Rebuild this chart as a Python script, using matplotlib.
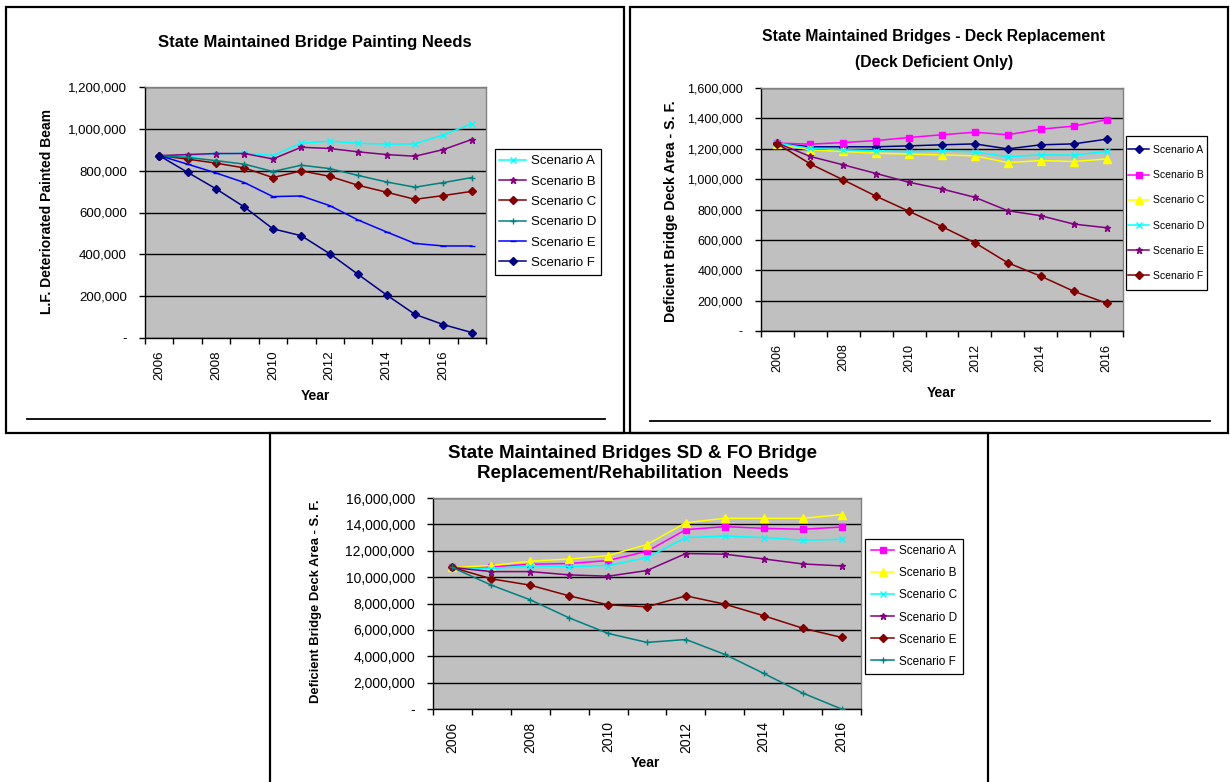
import matplotlib.pyplot as plt
from matplotlib.ticker import FuncFormatter, MultipleLocator
from matplotlib.lines import Line2D
from matplotlib.patches import Rectangle

plt.rcParams['font.family'] = ['Liberation Sans', 'DejaVu Sans']

# --- painting needs (top left) ---
paint_years = list(range(2006, 2018))
paint_a = [872, 868, 879, 884, 872, 931, 941, 931, 927, 928, 971, 1024]
paint_b = [872, 877, 882, 882, 856, 912, 906, 890, 877, 869, 901, 949]
paint_c = [872, 855, 836, 813, 767, 799, 773, 730, 697, 663, 681, 701]
paint_d = [872, 863, 848, 831, 796, 826, 810, 777, 746, 721, 743, 767]
paint_e = [872, 831, 789, 743, 676, 679, 633, 564, 507, 452, 440, 440]
paint_f = [872, 792, 713, 626, 522, 489, 403, 304, 206, 113, 64, 26]

# --- deck replacement (top right) ---
deck_years = list(range(2006, 2017))
deck_a = [1237, 1213, 1213, 1213, 1219, 1226, 1232, 1199, 1226, 1232, 1263]
deck_b = [1237, 1230, 1241, 1254, 1274, 1292, 1309, 1292, 1329, 1349, 1391]
deck_c = [1230, 1193, 1182, 1171, 1164, 1160, 1153, 1109, 1122, 1116, 1133]
deck_d = [1237, 1202, 1193, 1188, 1180, 1186, 1180, 1147, 1160, 1158, 1182]
deck_e = [1237, 1149, 1094, 1037, 979, 935, 880, 792, 759, 704, 680]
deck_f = [1232, 1100, 995, 887, 788, 687, 581, 449, 361, 262, 183]

# --- SD & FO replacement / rehabilitation (bottom) ---
sdfo_years = list(range(2006, 2017))
sdfo_a = [10.73, 10.78, 10.98, 11.03, 11.26, 11.96, 13.60, 13.83, 13.70, 13.63, 13.80]
sdfo_b = [10.73, 10.88, 11.20, 11.38, 11.63, 12.47, 14.13, 14.46, 14.46, 14.46, 14.74]
sdfo_c = [10.73, 10.65, 10.85, 10.80, 10.88, 11.48, 13.00, 13.12, 13.00, 12.80, 12.87]
sdfo_d = [10.73, 10.42, 10.42, 10.17, 10.07, 10.50, 11.79, 11.74, 11.38, 11.00, 10.85]
sdfo_e = [10.73, 9.87, 9.39, 8.58, 7.90, 7.75, 8.58, 7.95, 7.07, 6.13, 5.43]
sdfo_f = [10.73, 9.39, 8.28, 6.91, 5.73, 5.05, 5.27, 4.14, 2.70, 1.21, 0.0]

scenario_names = ['Scenario A', 'Scenario B', 'Scenario C',
                  'Scenario D', 'Scenario E', 'Scenario F']

CYAN, PURPLE, MAROON = '#00FFFF', '#800080', '#800000'
TEAL, BLUE, NAVY = '#008080', '#0000FF', '#000080'
MAGENTA, YELLOW = '#FF00FF', '#FFFF00'

W, H = 1230, 782
fig = plt.figure(figsize=(W / 100, H / 100), dpi=100)


def fx(px):
    return px / W


def fy(py):
    return 1 - py / H


def px_axes(left, top, right, bottom):
    return fig.add_axes([fx(left), fy(bottom), (right - left) / W, (bottom - top) / H])


def fmt_num(v, pos):
    if abs(v) < 1e-6:
        return '-'
    return f'{v:,.0f}'


def draw_panel(ax, years, series, styles, scale, ymax, ystep, tick_size):
    x = list(range(len(years)))
    for name, vals, (color, marker, ms) in zip(scenario_names, series, styles):
        ax.plot(x, [v * scale for v in vals], color=color, lw=1.1, marker=marker,
                markersize=ms, markerfacecolor=color, markeredgecolor=color,
                markeredgewidth=1.0, label=name, zorder=3)
    ax.set_facecolor('#C0C0C0')
    ax.set_xlim(-0.5, len(years) - 0.5)
    ax.set_ylim(0, ymax)
    ax.yaxis.set_major_locator(MultipleLocator(ystep))
    ax.yaxis.set_major_formatter(FuncFormatter(fmt_num))
    ax.grid(axis='y', color='black', lw=1.0)
    ax.set_axisbelow(True)
    ax.set_xticks(x[::2])
    ax.set_xticklabels([str(y) for y in years[::2]], rotation=90)
    ax.set_xticks([i - 0.5 for i in range(len(years) + 1)], minor=True)
    ax.tick_params(axis='x', which='major', length=0, pad=9, labelsize=tick_size,
                   labelcolor='black')
    ax.tick_params(axis='x', which='minor', length=4, width=1, direction='out')
    ax.tick_params(axis='y', which='major', length=4, width=1, direction='out',
                   pad=9, labelsize=tick_size)
    for side in ('top', 'right'):
        ax.spines[side].set_color('#808080')
        ax.spines[side].set_linewidth(1.0)
    for side in ('left', 'bottom'):
        ax.spines[side].set_color('black')
        ax.spines[side].set_linewidth(1.0)


def add_legend(ax, left, top, right, bottom, size, spacing):
    # Excel-style legend box: frame drawn separately so padding can differ
    fig.add_artist(Rectangle((fx(left), fy(bottom)), (right - left) / W,
                             (bottom - top) / H, transform=fig.transFigure,
                             facecolor='white', edgecolor='black', lw=0.9,
                             zorder=-1))
    ax.legend(loc='center', bbox_to_anchor=(fx((left + right) / 2), fy((top + bottom) / 2)),
              bbox_transform=fig.transFigure, borderaxespad=0, frameon=False,
              fontsize=size, labelspacing=spacing, handlelength=2.0,
              handletextpad=0.4, borderpad=0.2)


def box(left, top, right, bottom):
    fig.add_artist(Rectangle((fx(left), fy(bottom)), (right - left) / W,
                             (bottom - top) / H, transform=fig.transFigure,
                             fill=False, edgecolor='black', lw=1.6))


def hline(y, x0, x1):
    fig.add_artist(Line2D([fx(x0), fx(x1)], [fy(y), fy(y)],
                          transform=fig.transFigure, color='black', lw=1.3))


# panel frames
box(6, 7, 624, 433)
box(630, 7, 1228, 433)
box(270, 433, 988, 790)
hline(419, 27, 605)
hline(421, 650, 1210)

# top left panel
ax1 = px_axes(145, 87, 486, 338)
draw_panel(ax1, paint_years,
           [paint_a, paint_b, paint_c, paint_d, paint_e, paint_f],
           [(CYAN, 'x', 4), (PURPLE, '*', 5), (MAROON, 'D', 4),
            (TEAL, '+', 5), (BLUE, '_', 4), (NAVY, 'D', 4)],
           1000, 1200000, 200000, 9.5)
add_legend(ax1, 495, 149, 601, 275, 9.5, 0.61)
fig.text(fx(315), fy(43), 'State Maintained Bridge Painting Needs',
         ha='center', va='center', fontsize=12, fontweight='bold')
fig.text(fx(47), fy(212), 'L.F. Deteriorated Painted Beam', rotation=90,
         ha='center', va='center', fontsize=10, fontweight='bold')
fig.text(fx(315), fy(396), 'Year', ha='center', va='center',
         fontsize=10, fontweight='bold')

# top right panel
ax2 = px_axes(761, 88, 1123, 331)
draw_panel(ax2, deck_years,
           [deck_a, deck_b, deck_c, deck_d, deck_e, deck_f],
           [(NAVY, 'D', 4), (MAGENTA, 's', 5), (YELLOW, '^', 6),
            (CYAN, 'x', 4), (PURPLE, '*', 5), (MAROON, 'D', 4)],
           1000, 1600000, 200000, 9)
add_legend(ax2, 1126, 136, 1207, 290, 7.5, 1.46)
fig.text(fx(934), fy(37), 'State Maintained Bridges - Deck Replacement',
         ha='center', va='center', fontsize=11.3, fontweight='bold')
fig.text(fx(934), fy(62), '(Deck Deficient Only)',
         ha='center', va='center', fontsize=11.3, fontweight='bold')
fig.text(fx(671), fy(211), 'Deficient Bridge Deck Area - S. F.', rotation=90,
         ha='center', va='center', fontsize=10.2, fontweight='bold')
fig.text(fx(941), fy(393), 'Year', ha='center', va='center',
         fontsize=10, fontweight='bold')

# bottom panel
ax3 = px_axes(433, 498, 861, 709)
draw_panel(ax3, sdfo_years,
           [sdfo_a, sdfo_b, sdfo_c, sdfo_d, sdfo_e, sdfo_f],
           [(MAGENTA, 's', 5), (YELLOW, '^', 6), (CYAN, 'x', 4),
            (PURPLE, '*', 5), (MAROON, 'D', 4), (TEAL, '+', 5)],
           1e6, 16000000, 2000000, 10)
add_legend(ax3, 865, 539, 963, 674, 8.5, 0.85)
fig.text(fx(633), fy(453), 'State Maintained Bridges SD & FO Bridge',
         ha='center', va='center', fontsize=13.5, fontweight='bold')
fig.text(fx(633), fy(474), 'Replacement/Rehabilitation  Needs',
         ha='center', va='center', fontsize=13.5, fontweight='bold')
fig.text(fx(316), fy(601), 'Deficient Bridge Deck Area - S. F.', rotation=90,
         ha='center', va='center', fontsize=9.4, fontweight='bold')
fig.text(fx(645), fy(763), 'Year', ha='center', va='center',
         fontsize=10, fontweight='bold')

fig.savefig('out.png', dpi=100)
